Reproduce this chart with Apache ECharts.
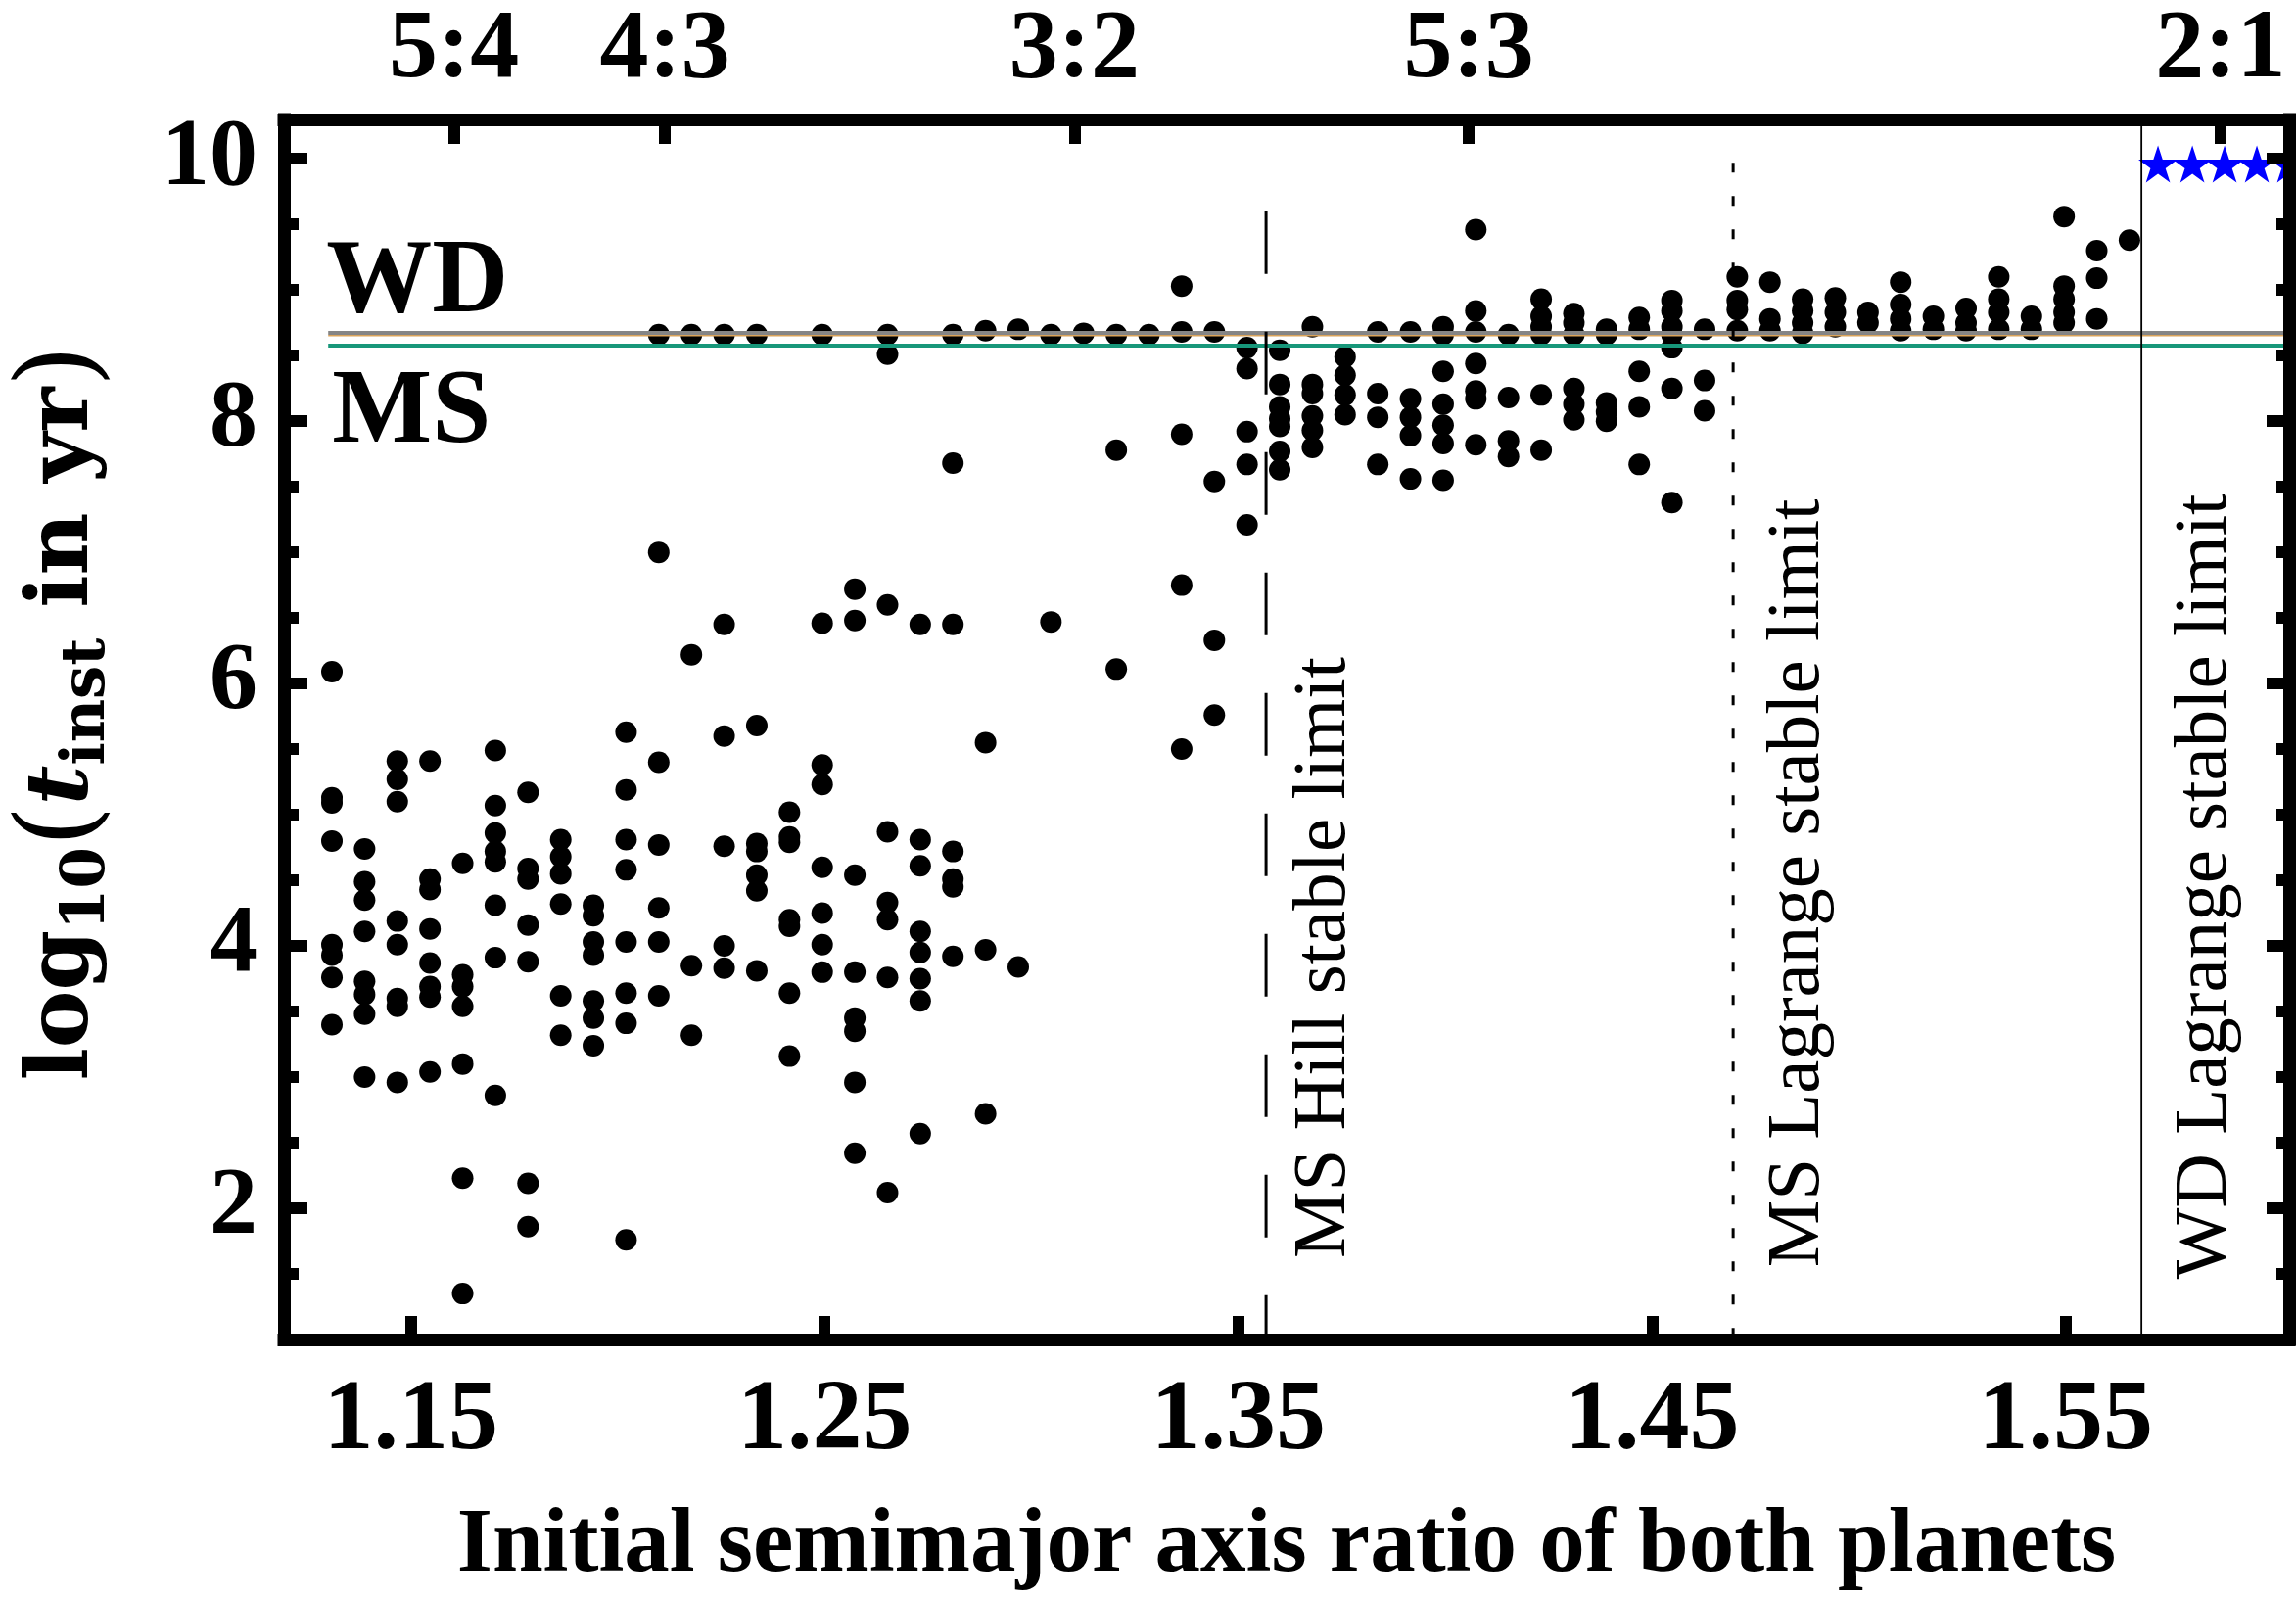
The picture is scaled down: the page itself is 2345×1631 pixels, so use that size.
<!DOCTYPE html>
<html>
<head>
<meta charset="utf-8">
<script src="https://cdn.jsdelivr.net/npm/echarts@6.0.0/dist/echarts.min.js"></script>
<style>
  html, body { margin: 0; padding: 0; background: #ffffff; }
  #chart { width: 2345px; height: 1631px; }
</style>
</head>
<body>
<div id="chart"></div>
<script>
// Initial semimajor axis ratio of each simulated column
const columnX = [
  1.1309, 1.1388, 1.1467, 1.1546, 1.1625, 1.1704, 1.1783, 1.1862, 1.1941, 1.2020,
  1.2099, 1.2178, 1.2257, 1.2336, 1.2415, 1.2494, 1.2573, 1.2652, 1.2731, 1.2810,
  1.2889, 1.2968, 1.3047, 1.3126, 1.3205, 1.3284, 1.3363, 1.3442, 1.3521, 1.3600,
  1.3679, 1.3758, 1.3837, 1.3916, 1.3995, 1.4074, 1.4153, 1.4232, 1.4311, 1.4390,
  1.4469, 1.4548, 1.4627, 1.4706, 1.4785, 1.4864, 1.4943, 1.5022, 1.5101, 1.5180,
  1.5259, 1.5338, 1.5417, 1.5496, 1.5575, 1.5654
];

// log10 of the instability time (yr) for every run in each column
const logTimes = [
  [6.09, 5.13, 5.09, 4.80, 4.01, 3.93, 3.76, 3.40],
  [4.74, 4.49, 4.35, 4.11, 3.73, 3.63, 3.48, 3.00],
  [5.41, 5.27, 5.10, 4.19, 4.01, 3.60, 3.54, 2.96],
  [5.41, 4.51, 4.43, 4.13, 3.87, 3.69, 3.61, 3.04],
  [4.63, 3.78, 3.69, 3.54, 3.10, 2.23, 1.35],
  [5.49, 5.07, 4.86, 4.72, 4.64, 4.31, 3.91, 2.86],
  [5.17, 4.59, 4.51, 4.16, 3.88, 2.19, 1.86],
  [4.81, 4.68, 4.55, 4.32, 3.62, 3.32],
  [4.31, 4.23, 4.03, 3.93, 3.58, 3.45, 3.24],
  [5.63, 5.19, 4.81, 4.58, 4.03, 3.64, 3.41, 1.76],
  [8.66, 7.00, 5.40, 4.77, 4.29, 4.03, 3.62],
  [8.66, 6.22, 3.85, 3.32],
  [8.66, 6.45, 5.60, 4.76, 4.00, 3.83],
  [8.66, 5.68, 4.78, 4.72, 4.54, 4.42, 3.81],
  [5.02, 4.83, 4.79, 4.20, 4.15, 3.64, 3.16],
  [8.66, 6.46, 5.38, 5.23, 4.60, 4.25, 4.01, 3.80],
  [6.72, 6.48, 4.54, 3.80, 3.45, 3.35, 2.96, 2.42],
  [8.66, 8.51, 6.60, 4.87, 4.33, 4.20, 3.76, 2.12],
  [6.45, 4.81, 4.61, 4.11, 3.95, 3.75, 3.58, 2.57],
  [8.66, 7.68, 6.45, 4.72, 4.51, 4.45, 3.92],
  [8.69, 5.55, 3.97, 2.72],
  [8.70, 3.84],
  [8.66, 6.47],
  [8.67],
  [8.66, 7.78, 6.11],
  [8.66],
  [9.03, 8.68, 7.90, 6.75, 5.50],
  [8.68, 7.54, 6.33, 5.76],
  [8.56, 8.40, 7.92, 7.67, 7.21],
  [8.54, 8.28, 8.11, 8.02, 7.96, 7.77, 7.63],
  [8.72, 8.28, 8.21, 8.04, 7.93, 7.80],
  [8.49, 8.35, 8.20, 8.05],
  [8.68, 8.21, 8.03, 7.67],
  [8.68, 8.17, 8.03, 7.89, 7.56],
  [8.72, 8.66, 8.38, 8.13, 7.97, 7.83, 7.55],
  [9.46, 8.84, 8.68, 8.44, 8.23, 8.17, 7.82],
  [8.66, 8.18, 7.85, 7.73],
  [8.93, 8.80, 8.72, 8.66, 8.20, 7.78],
  [8.82, 8.75, 8.66, 8.25, 8.13, 8.01],
  [8.70, 8.66, 8.14, 8.07, 8.00],
  [8.79, 8.70, 8.38, 8.11, 7.67],
  [8.92, 8.84, 8.72, 8.66, 8.56, 8.25, 7.38],
  [8.70, 8.31, 8.08],
  [9.10, 8.92, 8.85, 8.69],
  [9.06, 8.78, 8.69],
  [8.93, 8.84, 8.75, 8.67],
  [8.94, 8.83, 8.72],
  [8.83, 8.75],
  [9.06, 8.89, 8.78, 8.69],
  [8.80, 8.70],
  [8.86, 8.75, 8.69],
  [9.10, 8.93, 8.83, 8.70],
  [8.80, 8.70],
  [9.56, 9.03, 8.93, 8.83, 8.75],
  [9.30, 9.09, 8.78],
  [9.38]
];

// Runs that stayed stable for the whole integration
const stableX = [1.5723, 1.5806, 1.5884, 1.5962, 1.6040];
const stableLogTime = 9.96;

// Axis ticks
const xTicks = [1.15, 1.25, 1.35, 1.45, 1.55];
const resonanceX = [1.1604, 1.2114, 1.3104, 1.4057, 1.5874];
const resonanceLabels = ['5:4', '4:3', '3:2', '5:3', '2:1'];
const yMajorTicks = [2, 4, 6, 8, 10];
const yMinorTicks = [1.5, 2.5, 3, 3.5, 4.5, 5, 5.5, 6.5, 7, 7.5, 8.5, 9, 9.5];

// Reference levels and stability limits
const wdLevel = 8.672;
const wdEdgeLevel = 8.652;
const msLevel = 8.575;
const levelStartX = 1.13;
const hillLimit = 1.3567;
const msLagrangeLimit = 1.4696;
const wdLagrangeLimit = 1.5683;
const limitLabels = ['MS Hill stable limit', 'MS Lagrange stable limit', 'WD Lagrange stable limit'];

const X_MIN = 1.1193, X_MAX = 1.604;
const Y_MIN = 1.0, Y_MAX = 10.3;

const SERIF = '"Liberation Serif", "Times New Roman", serif';
const WIDE_SERIF = '"DejaVu Serif", "Liberation Serif", serif';
const FRAME = 13;

const starPath = 'path://M50,0 L61.23,34.55 L97.55,34.55 L68.16,55.9 L79.39,90.45 L50,69.1 L20.61,90.45 L31.84,55.9 L2.45,34.55 L38.77,34.55 Z';

const dots = [];
logTimes.forEach((ys, i) => ys.forEach(y => dots.push([columnX[i], y])));
const stars = stableX.map(x => [x, stableLogTime]);

function frameAxis(extra) {
  return Object.assign({
    type: 'value',
    z: 10,
    splitLine: { show: false },
    axisLine: { show: true, onZero: false, lineStyle: { color: '#000', width: FRAME, cap: 'square' } },
    axisTick: { show: false },
    axisLabel: { show: false }
  }, extra);
}

function tickAxis(base, values, length, labelOpt) {
  return Object.assign({}, base, {
    axisLine: { show: false, onZero: false },
    axisTick: { show: true, inside: true, length: length, customValues: values,
                lineStyle: { color: '#000', width: 12 } },
    axisLabel: labelOpt || { show: false }
  });
}

const xBase = { type: 'value', min: X_MIN, max: X_MAX, z: 10, splitLine: { show: false } };
const yBase = { type: 'value', min: Y_MIN, max: Y_MAX, z: 10, splitLine: { show: false } };

function segment(name, data, style, z) {
  return {
    name, type: 'line', data, z: z || 4,
    symbol: 'none', showSymbol: false, silent: true, clip: false,
    lineStyle: Object.assign({ opacity: 1 }, style), animation: false
  };
}

const chart = echarts.init(document.getElementById('chart'), null, { renderer: 'canvas' });

const option = {
  animation: false,
  backgroundColor: '#ffffff',
  textStyle: { fontFamily: SERIF },
  grid: { left: 290, right: 7, top: 122, bottom: 244, containLabel: false },
  xAxis: [
    frameAxis(Object.assign({}, xBase, { position: 'bottom',
      name: 'Initial semimajor axis ratio of both planets',
      nameLocation: 'middle', nameGap: 165,
      nameTextStyle: { fontFamily: SERIF, fontWeight: 'bold', fontSize: 93, color: '#000' } })),
    frameAxis(Object.assign({}, xBase, { position: 'top' })),
    tickAxis(Object.assign({}, xBase, { position: 'bottom' }), xTicks, 24, {
      show: true, customValues: xTicks, margin: 34, color: '#000',
      fontFamily: SERIF, fontWeight: 'bold', fontSize: 102,
      formatter: v => v.toFixed(2)
    }),
    tickAxis(Object.assign({}, xBase, { position: 'top' }), resonanceX, 25, {
      show: true, customValues: resonanceX, margin: 20, color: '#000',
      fontFamily: SERIF, fontWeight: 'bold', fontSize: 100,
      formatter: v => {
        let best = 0;
        resonanceX.forEach((r, i) => { if (Math.abs(r - v) < Math.abs(resonanceX[best] - v)) best = i; });
        return resonanceLabels[best];
      }
    })
  ],
  yAxis: [
    frameAxis(Object.assign({}, yBase, { position: 'left' })),
    frameAxis(Object.assign({}, yBase, { position: 'right' })),
    tickAxis(Object.assign({}, yBase, { position: 'left' }), yMajorTicks, 24, {
      show: true, customValues: yMajorTicks, margin: 27, color: '#000',
      fontFamily: SERIF, fontWeight: 'bold', fontSize: 98,
      formatter: v => String(v)
    }),
    tickAxis(Object.assign({}, yBase, { position: 'left' }), yMinorTicks, 15),
    tickAxis(Object.assign({}, yBase, { position: 'right' }), yMajorTicks, 23),
    tickAxis(Object.assign({}, yBase, { position: 'right' }), yMinorTicks, 13)
  ],
  series: [
    {
      name: 'unstable', type: 'scatter', data: dots, z: 2,
      symbol: 'circle', symbolSize: 22,
      itemStyle: { color: '#000000', opacity: 1 }, silent: true
    },
    {
      name: 'stable', type: 'scatter', data: stars, z: 3, clip: false,
      symbol: starPath, symbolSize: [40, 38],
      itemStyle: { color: '#0000ff', opacity: 1 }, silent: true
    },
    segment('WD edge', [[levelStartX, wdEdgeLevel], [X_MAX, wdEdgeLevel]], { color: '#d9a35b', width: 1.5 }),
    segment('WD', [[levelStartX, wdLevel], [X_MAX, wdLevel]], { color: '#858585', width: 4 }),
    segment('MS', [[levelStartX, msLevel], [X_MAX, msLevel]], { color: '#17977a', width: 4 }),
    segment('Hill', [[hillLimit, 9.6], [hillLimit, Y_MIN]], { color: '#000', width: 3, type: [64, 59] }),
    segment('MS Lagrange', [[msLagrangeLimit, 9.97], [msLagrangeLimit, Y_MIN]], { color: '#000', width: 3, type: [10, 24] }),
    segment('WD Lagrange', [[wdLagrangeLimit, Y_MAX], [wdLagrangeLimit, Y_MIN]], { color: '#000', width: 1.8 })
  ]
};

chart.setOption(option);

// Annotations placed from data coordinates
const px = (x, y) => chart.convertToPixel({ xAxisIndex: 0, yAxisIndex: 0 }, [x, y]);
const LIMIT_FS = 77;
const limitX = [hillLimit, msLagrangeLimit, wdLagrangeLimit];
const limitStartY = [1.62, 1.55, 1.46];
const limitBaselineGap = [83, 90, 89];

const graphics = limitX.map((lx, i) => {
  const p = px(lx, limitStartY[i]);
  return {
    type: 'text', z: 20, silent: true,
    x: p[0] + limitBaselineGap[i] - 0.305 * LIMIT_FS, y: p[1],
    rotation: Math.PI / 2,
    style: { text: limitLabels[i], fill: '#000',
             fontFamily: SERIF, fontSize: LIMIT_FS, fontWeight: 'normal',
             align: 'left', verticalAlign: 'middle' }
  };
});

const wdPos = px(levelStartX, wdLevel);
graphics.push({
  type: 'text', z: 20, silent: true, x: wdPos[0] - 2, y: 290,
  style: { text: 'WD', fill: '#000', fontFamily: SERIF, fontWeight: 'bold', fontSize: 108,
           align: 'left', verticalAlign: 'middle' }
});
graphics.push({
  type: 'text', z: 20, silent: true, x: wdPos[0] + 4, y: 423,
  style: { text: 'MS', fill: '#000', fontFamily: SERIF, fontWeight: 'bold', fontSize: 108,
           align: 'left', verticalAlign: 'middle' }
});

// Vertical axis title with subscripts
graphics.push({
  type: 'text', z: 20, silent: true, x: 66, y: 728, rotation: Math.PI / 2,
  style: {
    text: '{m|log}{s|10}{p|(}{t|t}{s|inst}{m| in yr}{p|)}',
    fill: '#000', align: 'center', verticalAlign: 'middle',
    rich: {
      m: { fontFamily: WIDE_SERIF, fontWeight: 'bold', fontSize: 88, lineHeight: 120, verticalAlign: 'middle' },
      s: { fontFamily: WIDE_SERIF, fontWeight: 'bold', fontSize: 61, verticalAlign: 'middle', padding: [48, 0, 0, 0] },
      p: { fontFamily: WIDE_SERIF, fontSize: 110, lineHeight: 120, verticalAlign: 'middle' },
      t: { fontFamily: WIDE_SERIF, fontWeight: 'bold', fontStyle: 'italic', fontSize: 88, lineHeight: 120, verticalAlign: 'middle' }
    }
  }
});

chart.setOption({ graphic: graphics });
</script>
</body>
</html>
